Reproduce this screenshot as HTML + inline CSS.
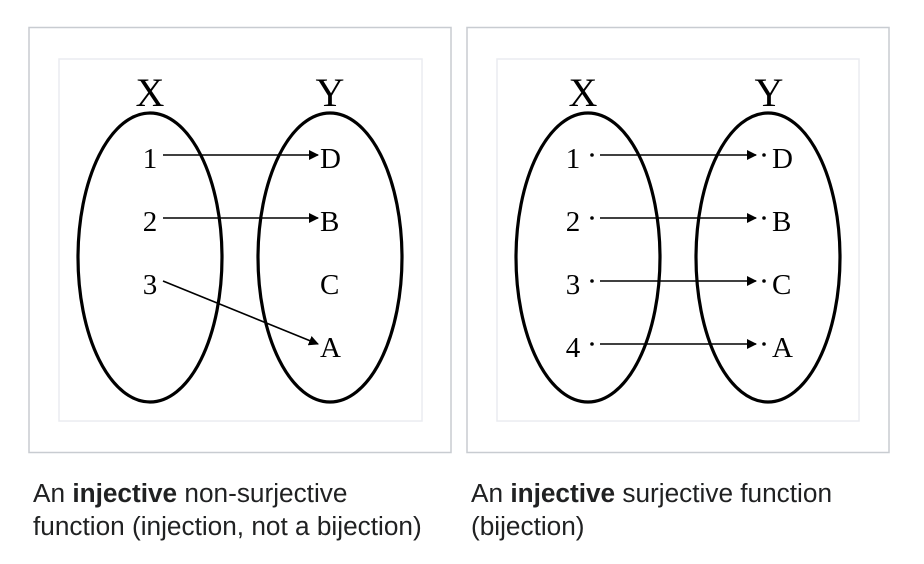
<!DOCTYPE html>
<html><head><meta charset="utf-8"><style>
html,body{margin:0;padding:0;background:#fff;}
body{width:924px;height:564px;position:relative;overflow:hidden;}
svg{position:absolute;left:0;top:0;}
.cap{position:absolute;font-family:"Liberation Sans",sans-serif;font-size:26.2px;line-height:33px;color:#202122;white-space:nowrap;}
</style></head><body>
<svg width="924" height="564" id="svg">
<defs><marker id="ah" markerWidth="10" markerHeight="10" refX="9" refY="5" orient="auto" markerUnits="userSpaceOnUse"><path d="M0,0 L10,5 L0,10 z" fill="#000"/></marker></defs>
<rect x="29" y="27.5" width="422" height="425" fill="none" stroke="#c8ccd1" stroke-width="1.5"/>
<rect x="59" y="59" width="363" height="362" fill="none" stroke="#eaecf0" stroke-width="1.5"/>
<rect x="467" y="27.5" width="422" height="425" fill="none" stroke="#c8ccd1" stroke-width="1.5"/>
<rect x="497" y="59" width="362" height="362" fill="none" stroke="#eaecf0" stroke-width="1.5"/>
<g id="g1"></g>
<g id="g2"></g>
</svg>
<div class="cap" style="left:33px;top:477px;">An <b>injective</b> non-surjective<br>function (injection, not a bijection)</div>
<div class="cap" style="left:471px;top:477px;">An <b>injective</b> surjective function<br>(bijection)</div>
<script>
const leftDomain=["1","2","3"];
const leftCodomain=["D","B","C","A"];
const leftMap=[0,1,3];
const rightDomain=["1","2","3","4"];
const rightCodomain=["D","B","C","A"];
const rightMap=[0,1,2,3];
const NS="http://www.w3.org/2000/svg";
function mk(tag,attrs,parent){const e=document.createElementNS(NS,tag);for(const k in attrs)e.setAttribute(k,attrs[k]);parent.appendChild(e);return e;}
function rowY(i){return 155+i*63;}
function draw(g,dom,cod,map,o){
  let e;
  e=mk('ellipse',{cx:o.lx,cy:257.5,rx:72,ry:144.5,fill:'none',stroke:'#000','stroke-width':3.2},g);
  
  
  e=mk('ellipse',{cx:o.rx,cy:257.5,rx:72,ry:144.5,fill:'none',stroke:'#000','stroke-width':3.2},g);
  
  
  e=mk('text',{x:o.xl,y:106,'font-size':40,'text-anchor':'middle','font-family':'Liberation Serif, serif'},g);e.textContent='X';
  
  
  e=mk('text',{x:o.yl,y:106,'font-size':40,'text-anchor':'middle','font-family':'Liberation Serif, serif'},g);e.textContent='Y';
  
  
  dom.forEach((d,i)=>{
    const t=mk('text',{x:o.nx,y:rowY(i)+13,'font-size':29,'text-anchor':'middle','font-family':'Liberation Serif, serif'},g);t.textContent=d;
    
    
    if(o.dots){const c=mk('circle',{cx:o.dx1,cy:rowY(i),r:1.8,fill:'#000'},g);
      
      }
    const j=map[i];
    const a=mk('line',{x1:o.ax1,y1:rowY(i),x2:o.ax2,y2:rowY(j),stroke:'#000','stroke-width':1.6,'marker-end':'url(#ah)'},g);
    
    
  });
  cod.forEach((c,j)=>{
    const t=mk('text',{x:o.cx,y:rowY(j)+13,'font-size':29,'text-anchor':'start','font-family':'Liberation Serif, serif'},g);t.textContent=c;
    
    
    if(o.dots){const d=mk('circle',{cx:o.dx2,cy:rowY(j),r:1.8,fill:'#000'},g);
      
      }
  });
}
draw(document.getElementById('g1'),leftDomain,leftCodomain,leftMap,{lx:150,rx:330,xl:150,yl:330,nx:150,ax1:163,ax2:318,cx:320,dots:false});
draw(document.getElementById('g2'),rightDomain,rightCodomain,rightMap,{lx:588,rx:768,xl:583,yl:769,nx:573,dx1:592,dx2:764,ax1:600,ax2:756,cx:772,dots:true});
</script>
</body></html>
